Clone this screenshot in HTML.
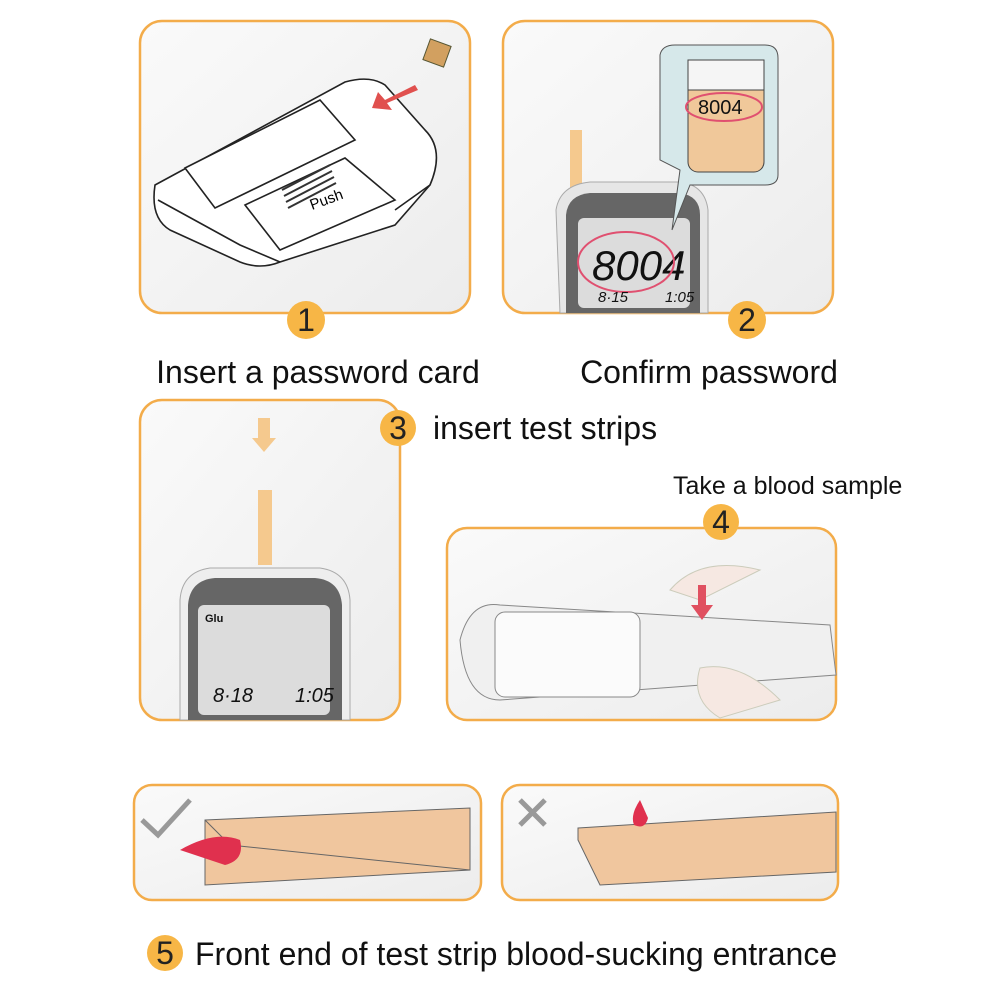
<!DOCTYPE html>
<html><head><meta charset="utf-8"><style>
html,body{margin:0;padding:0;background:#fff;}
svg{display:block}
text{font-family:"Liberation Sans",sans-serif;}
</style></head><body>
<svg width="1000" height="1000" viewBox="0 0 1000 1000">
<defs>
<linearGradient id="g" x1="0" y1="0" x2="1" y2="1"><stop offset="0" stop-color="#fafafa"/><stop offset="1" stop-color="#ececec"/></linearGradient>
</defs>
<g fill="url(#g)" stroke="#f3ac4a" stroke-width="2.5">
<rect x="140" y="21" width="330" height="292" rx="22"/>
<rect x="503" y="21" width="330" height="292" rx="22"/>
<rect x="140" y="400" width="260" height="320" rx="22"/>
<rect x="447" y="528" width="389" height="192" rx="20"/>
<rect x="134" y="785" width="347" height="115" rx="18"/>
<rect x="502" y="785" width="336" height="115" rx="18"/>
</g>
<!-- panel 1 meter -->
<g fill="#fff" stroke="#222" stroke-width="1.6">
<path d="M155 185 L345 82 Q370 75 385 85 L425 130 Q445 150 430 185 L395 225 L280 262 Q260 270 240 262 L170 230 Q150 218 155 185Z"/>
<path d="M185 168 L320 100 L355 140 L215 208Z"/>
<path d="M245 205 L345 158 L395 200 L280 250Z"/>
<path d="M158 200 L240 245 L280 262 M395 210 L430 185"/>
</g>
<g stroke="#333" stroke-width="2"><line x1="282" y1="190" x2="330" y2="165"/><line x1="284" y1="196" x2="332" y2="171"/><line x1="286" y1="202" x2="334" y2="177"/><line x1="288" y1="208" x2="336" y2="183"/></g>
<text x="312" y="210" font-family="Liberation Serif" font-size="15" transform="rotate(-20 312 210)">Push</text>
<path d="M415 85 L385 100 L378 92 L372 108 L392 110 L387 103 L418 90Z" fill="#e0504e"/>
<rect x="426" y="42" width="22" height="22" fill="#d2a060" stroke="#553" transform="rotate(20 437 53)"/>
<!-- panel 2 -->
<rect x="570" y="130" width="12" height="60" fill="#f5c98e"/>
<path d="M560 313 L556 210 Q560 185 590 182 L680 182 Q705 185 708 210 L708 313Z" fill="#e6e6e6" stroke="#aaa"/>
<path d="M566 313 L566 215 Q568 195 590 193 L680 193 Q700 196 700 215 L700 313Z" fill="#666"/>
<rect x="578" y="218" width="112" height="90" rx="6" fill="#dcdcdc"/>
<text x="592" y="280" font-size="42" font-style="italic" fill="#111">8004</text>
<ellipse cx="626" cy="262" rx="48" ry="30" fill="none" stroke="#e05070" stroke-width="2"/>
<text x="598" y="302" font-size="15" font-style="italic" fill="#111">8·15</text>
<text x="665" y="302" font-size="15" font-style="italic" fill="#111">1:05</text>
<path d="M672 230 L680 170 L660 160 L660 55 Q662 45 675 45 L765 45 Q778 45 778 58 L778 175 Q778 185 765 185 L690 185Z" fill="#d6e8ea" stroke="#555"/>
<rect x="688" y="60" width="76" height="112" rx="10" fill="#f0c89a" stroke="#444"/>
<rect x="688" y="60" width="76" height="30" fill="#f5f5f5" stroke="#444"/>
<text x="698" y="114" font-size="20" fill="#111">8004</text>
<ellipse cx="724" cy="107" rx="38" ry="14" fill="none" stroke="#e05070" stroke-width="2"/>
<!-- panel 3 -->
<path d="M258 418 L270 418 L270 438 L276 438 L264 452 L252 438 L258 438Z" fill="#f5c98e"/>
<rect x="258" y="490" width="14" height="75" fill="#f5c98e"/>
<path d="M180 720 L180 600 Q182 572 210 568 L320 568 Q348 572 350 600 L350 720Z" fill="#eee" stroke="#aaa"/>
<path d="M188 720 L188 605 Q190 580 215 578 L315 578 Q340 580 342 605 L342 720Z" fill="#666"/>
<rect x="198" y="605" width="132" height="110" rx="6" fill="#dcdcdc"/>
<text x="205" y="622" font-size="11" font-weight="bold" fill="#111">Glu</text>
<text x="213" y="702" font-size="20" font-style="italic" fill="#111">8·18</text>
<text x="295" y="702" font-size="20" font-style="italic" fill="#111">1:05</text>
<!-- panel 4 -->
<path d="M460 640 Q470 600 500 605 L830 625 L836 675 L500 700 Q465 700 460 640Z" fill="#f0f0f0" stroke="#888"/>
<rect x="495" y="612" width="145" height="85" rx="10" fill="#fbfbfb" stroke="#888"/>
<path d="M670 590 Q700 555 760 570 L700 600Z" fill="#f6e8e2" stroke="#ccb"/>
<path d="M700 668 Q740 660 780 700 L720 718 Q690 700 700 668Z" fill="#f6e8e2" stroke="#ccb"/>
<path d="M698 585 L706 585 L706 605 L713 605 L702 620 L691 605 L698 605Z" fill="#e05060"/>
<!-- panel 5 -->
<path d="M142 820 L158 835 L190 800" fill="none" stroke="#999" stroke-width="5"/>
<path d="M205 820 L470 808 L470 870 L205 885Z" fill="#f0c69e" stroke="#666"/>
<path d="M205 820 L230 845 L470 870" fill="none" stroke="#666"/>
<path d="M180 850 Q215 830 240 840 Q245 860 225 865Z" fill="#e0304e"/>
<path d="M520 800 L545 825 M545 800 L520 825" stroke="#999" stroke-width="5"/>
<path d="M578 828 L836 812 L836 872 L600 885 L578 840Z" fill="#f0c69e" stroke="#666"/>
<path d="M640 800 Q630 815 634 825 Q645 830 648 818Z" fill="#e0304e"/>
<!-- circles -->
<g fill="#f7b646"><circle cx="306" cy="320" r="19"/><circle cx="747" cy="320" r="19"/><circle cx="398" cy="428" r="18"/><circle cx="721" cy="522" r="18"/><circle cx="165" cy="953" r="18"/></g>
<g font-size="32" fill="#222" text-anchor="middle">
<text x="306" y="331">1</text><text x="747" y="331">2</text><text x="398" y="439">3</text><text x="721" y="533">4</text><text x="165" y="964">5</text>
</g>
<g font-size="32" fill="#111">
<text x="318" y="383" text-anchor="middle">Insert a password card</text>
<text x="709" y="383" text-anchor="middle">Confirm password</text>
<text x="433" y="439">insert test strips</text>
<text x="195" y="965">Front end of test strip blood-sucking entrance</text>
</g>
<text x="673" y="494" font-size="25" fill="#111">Take a blood sample</text>
</svg>
</body></html>
